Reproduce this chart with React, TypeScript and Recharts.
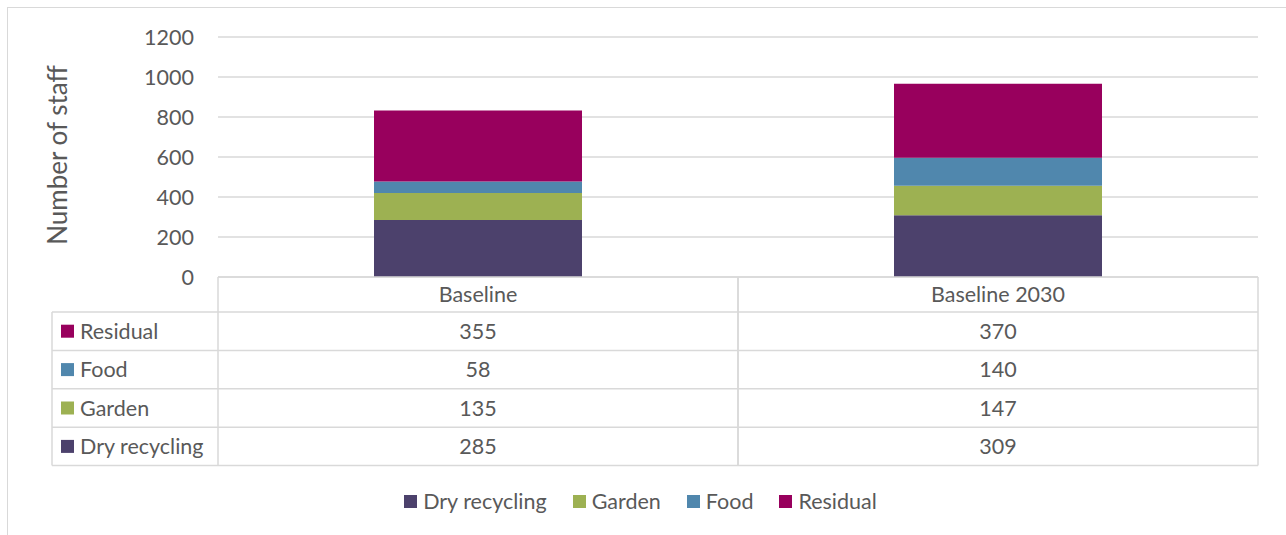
import React from 'react';
import { BarChart, Bar, XAxis, YAxis, CartesianGrid, Legend, Label } from 'recharts';

const categories = ['Baseline', 'Baseline 2030'];
const dryRecycling = [285, 309];
const garden = [135, 147];
const food = [58, 140];
const residual = [355, 370];
const yTicks = [0, 200, 400, 600, 800, 1000, 1200];
const seriesNames = ['Dry recycling', 'Garden', 'Food', 'Residual'];
const seriesKeys = ['dry', 'garden', 'food', 'residual'];
const seriesColors = ['#4C416C', '#9DB152', '#5087AD', '#98005D'];
const seriesValues = [dryRecycling, garden, food, residual];
const tableOrder = [3, 2, 1, 0];
const yLabel = 'Number of staff';

const data = categories.map((c, i) => {
  const row: Record<string, string | number> = { category: c };
  seriesKeys.forEach((k, s) => {
    row[k] = seriesValues[s][i];
  });
  return row;
});

const W = 1286;
const H = 535;
const LEGEND_H = 30;
const MARGIN = { top: 37, right: 28, left: 48, bottom: 19 };
const YAXIS_W = 170;
const XAXIS_H = 258 - MARGIN.bottom - LEGEND_H;
const PLOT_LEFT = MARGIN.left + YAXIS_W;
const PLOT_W = W - PLOT_LEFT - MARGIN.right;
const HALF_BAND = PLOT_W / categories.length / 2;
const TABLE_LEFT = 52;
const HEADER_H = 35;
const ROW_H = 38.4;
const FONT = 'Lato, "Open Sans", sans-serif';
const TEXT = '#595959';
const LINE = '#D9D9D9';
const FS = 21.5;

function TableTick(props: any) {
  const { x, y, payload } = props;
  const i: number = payload.index;
  const left = x - HALF_BAND;
  const right = x + HALF_BAND;
  const top = y;
  const bodyTop = top + HEADER_H;
  const bottom = bodyTop + ROW_H * tableOrder.length;
  const els: React.ReactNode[] = [];
  els.push(
    <text key="h" x={x} y={top + HEADER_H / 2} textAnchor="middle" dy="0.36em" fill={TEXT} fontSize={FS} fontFamily={FONT}>
      {payload.value}
    </text>
  );
  els.push(<line key="vl" x1={left} x2={left} y1={top} y2={bottom} stroke={LINE} strokeWidth={1.5} />);
  els.push(<line key="vr" x1={right} x2={right} y1={top} y2={bottom} stroke={LINE} strokeWidth={1.5} />);
  els.push(<line key="ht" x1={left} x2={right} y1={top} y2={top} stroke={LINE} strokeWidth={1.5} />);
  for (let r = 0; r <= tableOrder.length; r++) {
    const ly = bodyTop + r * ROW_H;
    els.push(<line key={'hl' + r} x1={left} x2={right} y1={ly} y2={ly} stroke={LINE} strokeWidth={1.5} />);
  }
  tableOrder.forEach((s, r) => {
    const cy = bodyTop + r * ROW_H + ROW_H / 2;
    els.push(
      <text key={'v' + r} x={x} y={cy} textAnchor="middle" dy="0.36em" fill={TEXT} fontSize={FS} fontFamily={FONT}>
        {seriesValues[s][i]}
      </text>
    );
  });
  if (i === 0) {
    els.push(<line key="lvl" x1={TABLE_LEFT} x2={TABLE_LEFT} y1={bodyTop} y2={bottom} stroke={LINE} strokeWidth={1.5} />);
    for (let r = 0; r <= tableOrder.length; r++) {
      const ly = bodyTop + r * ROW_H;
      els.push(<line key={'lhl' + r} x1={TABLE_LEFT} x2={left} y1={ly} y2={ly} stroke={LINE} strokeWidth={1.5} />);
    }
    tableOrder.forEach((s, r) => {
      const cy = bodyTop + r * ROW_H + ROW_H / 2;
      els.push(<rect key={'sw' + r} x={TABLE_LEFT + 9} y={cy - 6.5} width={13} height={13} fill={seriesColors[s]} />);
      els.push(
        <text key={'n' + r} x={TABLE_LEFT + 28} y={cy} dy="0.36em" fill={TEXT} fontSize={FS} fontFamily={FONT}>
          {seriesNames[s]}
        </text>
      );
    });
  }
  return <g>{els}</g>;
}

function YLabel(props: any) {
  const vb = props.viewBox || { x: MARGIN.left, y: MARGIN.top, height: 240 };
  const cx = vb.x + 10;
  const cy = vb.y + vb.height / 2 - 2;
  return (
    <text x={cx} y={cy} transform={`rotate(-90 ${cx} ${cy})`} textAnchor="middle" dy="0.36em" fill={TEXT} fontSize={26} fontFamily={FONT}>
      {yLabel}
    </text>
  );
}

function LegendContent() {
  return (
    <div style={{ display: 'flex', justifyContent: 'center', alignItems: 'center', height: LEGEND_H, fontFamily: FONT, fontSize: FS, color: TEXT, paddingRight: 5 }}>
      {seriesNames.map((n, s) => (
        <div key={n} style={{ display: 'flex', alignItems: 'center', marginLeft: s === 0 ? 0 : 26 }}>
          <div style={{ width: 13, height: 13, background: seriesColors[s], marginRight: 6 }} />
          <span>{n}</span>
        </div>
      ))}
    </div>
  );
}

export default function App() {
  return (
    <div style={{ position: 'absolute', left: 0, top: 0, width: W, height: H, overflow: 'hidden', background: '#fff' }}>
      <div style={{ position: 'absolute', left: 7, top: 7, width: W + 20, height: H + 20, border: `1.5px solid ${LINE}`, boxSizing: 'border-box' }} />
      <div style={{ position: 'absolute', left: 0, top: 0 }}>
        <BarChart width={W} height={H} data={data} margin={MARGIN} barCategoryGap="30%">
          <CartesianGrid vertical={false} stroke={LINE} strokeWidth={1.5} />
          <XAxis
            dataKey="category"
            height={XAXIS_H}
            axisLine={false}
            tickLine={false}
            tickSize={0}
            tickMargin={0}
            interval={0}
            tick={<TableTick />}
          />
          <YAxis
            width={YAXIS_W}
            domain={[0, 1200]}
            ticks={yTicks}
            interval={0}
            axisLine={false}
            tickLine={false}
            tickMargin={18}
            tick={{ fill: TEXT, fontSize: FS, fontFamily: FONT }}
          >
            <Label content={<YLabel />} />
          </YAxis>
          <Legend
            verticalAlign="bottom"
            height={LEGEND_H}
            wrapperStyle={{ left: 0, width: W }}
            content={<LegendContent />}
          />
          {seriesKeys.map((k, s) => (
            <Bar key={k} dataKey={k} name={seriesNames[s]} stackId="a" fill={seriesColors[s]} isAnimationActive={false} />
          ))}
        </BarChart>
      </div>
    </div>
  );
}
